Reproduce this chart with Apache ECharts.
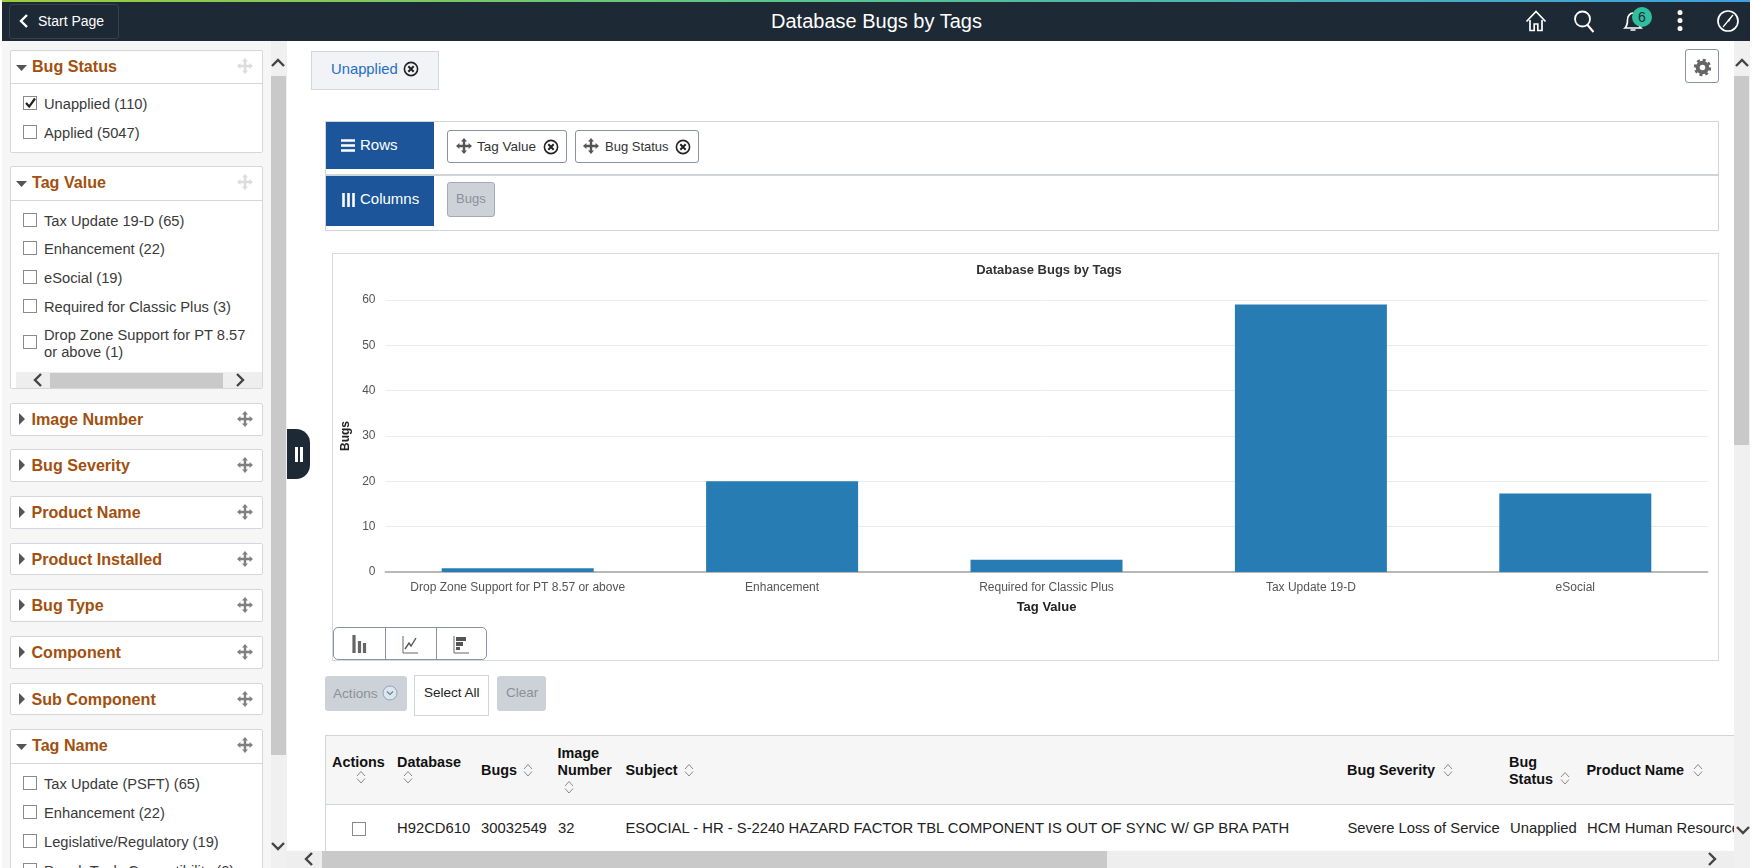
<!DOCTYPE html>
<html>
<head>
<meta charset="utf-8">
<title>Database Bugs by Tags</title>
<script src="https://cdn.jsdelivr.net/npm/echarts@6/dist/echarts.min.js"></script>
<style>
	html, body { margin: 0; padding: 0; width: 1753px; height: 868px; overflow: hidden; background: #fff; font-family: "Liberation Sans", Arial, sans-serif; color: #333; }
	.b { position: absolute; box-sizing: border-box; }
	.t { position: absolute; white-space: nowrap; line-height: 20px; height: 20px; }
	svg { position: absolute; overflow: visible; }
	#chart { position: absolute; left: 333px; top: 254px; width: 1385px; height: 406px; }
</style>
</head>
<body>
<div id="page"></div>
<div id="chart"></div>
<script>
// chart values
var chartTitle = "Database Bugs by Tags";
var tagValues = ["Drop Zone Support for PT 8.57 or above", "Enhancement", "Required for Classic Plus", "Tax Update 19-D", "eSocial"];
var bugCounts = [0.8, 20, 2.7, 59, 17.3];
var xAxisName = "Tag Value";
var yAxisName = "Bugs";

// page furniture text
var bugStatusItems = ["Unapplied (110)", "Applied (5047)"];
var tagValueItems = ["Tax Update 19-D (65)", "Enhancement (22)", "eSocial (19)", "Required for Classic Plus (3)"];
var tagNameItems = ["Tax Update (PSFT) (65)", "Enhancement (22)", "Legislative/Regulatory (19)", "PeopleTools Compatibility (2)"];
var closedPanels = [
	["Image Number", 403, 436],
	["Bug Severity", 449, 482],
	["Product Name", 496, 529],
	["Product Installed", 543, 575],
	["Bug Type", 589, 622],
	["Component", 636, 669],
	["Sub Component", 683, 715]
];
var tableHead = [
	[["Actions"], 332, 762, 361, 777],
	[["Database"], 397, 762, 408, 777],
	[["Bugs"], 481, 770, 528, 770],
	[["Image", "Number"], 557.5, 753, 569, 787],
	[["Subject"], 625.5, 770, 689, 770],
	[["Bug Severity"], 1347, 770, 1448, 770],
	[["Bug", "Status"], 1509, 762, 1565, 778],
	[["Product Name"], 1586.5, 770, 1698, 770]
];
var tableRow = [
	["H92CD610", 397],
	["30032549", 481],
	["32", 558],
	["ESOCIAL - HR - S-2240 HAZARD FACTOR TBL COMPONENT IS OUT OF SYNC W/ GP BRA PATH", 625.5],
	["Severe Loss of Service", 1347.5],
	["Unapplied", 1510],
	["HCM Human Resources", 1587]
];

var page = document.getElementById("page"),
	html = [];

function box(x, y, w, h, css, inner) {
	html.push('<div class="b" style="left:' + x + 'px;top:' + y + 'px;width:' + w + 'px;height:' + h + 'px;' + (css || '') + '">' + (inner || '') + '</div>');
}
function text(x, cy, s, css) {
	html.push('<div class="t" style="left:' + x + 'px;top:' + (cy - 10) + 'px;' + (css || '') + '">' + s + '</div>');
}
function svg(x, y, w, h, inner) {
	html.push('<svg style="left:' + x + 'px;top:' + y + 'px" width="' + w + '" height="' + h + '" viewBox="0 0 ' + w + ' ' + h + '">' + inner + '</svg>');
}
function move(cx, cy, color) {
	svg(cx - 8, cy - 8, 16, 16, '<path fill="' + color + '" d="M8 0l3 3.4H9.2v3.4h3.4V5L16 8l-3.4 3v-1.8H9.2v3.4H11L8 16l-3-3.4h1.8V9.2H3.4V11L0 8l3.4-3v1.8h3.4V3.4H5z"/>');
}
function xcircle(cx, cy) {
	svg(cx - 8, cy - 8, 16, 16, '<circle cx="8" cy="8" r="6.6" fill="none" stroke="#222" stroke-width="1.6"/><path d="M5.3 5.3l5.4 5.4M10.7 5.3l-5.4 5.4" stroke="#222" stroke-width="2"/>');
}
function check(cx, cy, on) {
	box(cx - 7, cy - 7, 14, 14, 'background:#fff;border:1px solid #8a8a8a;');
	if (on) {
		svg(cx - 7, cy - 8, 16, 16, '<path d="M3 8l3.2 3.6L12 3.5" fill="none" stroke="#222" stroke-width="2.2"/>');
	}
}
function chev(cx, cy, dir, color) {
	var p = {
		up: "M0 6L6 0L12 6",
		down: "M0 0L6 6L12 0",
		left: "M6 0L0 6L6 12",
		right: "M0 0L6 6L0 12"
	};
	svg(cx - 6, cy - 6, 12, 12, '<path d="' + p[dir] + '" fill="none" stroke="' + (color || '#444') + '" stroke-width="2.4" transform="translate(' + (dir == "left" || dir == "right" ? 3 : 0) + ',' + (dir == "up" || dir == "down" ? 3 : 0) + ')"/>');
}
function sortIcon(cx, cy) {
	svg(cx - 5, cy - 7, 10, 14, '<path d="M1 6L5 1.5L9 6M1 8.5L5 13L9 8.5" fill="none" stroke="#8a8a8a" stroke-width="1"/>');
}
function panel(name, top, bottom, open, fade) {
	box(9.5, top, 253, bottom - top, 'background:#fff;border:1px solid #d4d8dd;border-radius:2px;');
	if (open) {
		box(9.5, open, 253, 1, 'background:#d4d8dd;');
		svg(16, top + 14, 12, 8, '<path d="M0 1h11L5.5 7z" fill="#555"/>');
	} else {
		svg(18, top + 10, 8, 12, '<path d="M1 0v12l6-6z" fill="#555"/>');
	}
	text(open ? 32 : 31.5, top + 16, name, 'font-weight:bold;font-size:16.1px;color:#a2500f;');
	move(245, top + 16, fade ? "#dcdcdc" : "#808080");
}
function checkItem(label, cy, on) {
	check(30, cy, on);
	text(44, cy + 0.5, label, 'font-size:14.7px;color:#3a3a3a;');
}

// header bar
box(2, 0, 1748, 41, 'background:#1e2936;');
box(2, 0, 1748, 1.5, 'background:linear-gradient(90deg,#9ccc3c 0%,#5cc48a 45%,#3f9fe0 100%);');
box(8.5, 3.5, 110, 35, 'border:1px solid #36424f;border-radius:3px;');
chev(24, 21, "left", "#fff");
text(38, 21, "Start Page", 'font-size:14px;color:#fff;');
text(876.5, 21, chartTitle, 'font-size:20px;color:#fff;transform:translateX(-50%);');
svg(1525, 10, 22, 22, '<path d="M1.5 11.5L11 1.5l9.5 10M5 10v10.5h4.2v-6.5h3.6v6.5H17V10" fill="none" stroke="#fff" stroke-width="1.7"/>');
svg(1573, 10, 22, 22, '<circle cx="9.5" cy="9" r="7.5" fill="none" stroke="#fff" stroke-width="1.8"/><path d="M14.5 15l6 7" stroke="#fff" stroke-width="2"/>');
svg(1622, 10, 22, 22, '<path d="M3 18c2-2 2.5-4 2.5-8C5.500 6 8 3 11 3s5.500 3 5.500 7c0 4 .5 6 2.500 8z M8.500 20h5" fill="none" stroke="#fff" stroke-width="1.7"/>');
box(1632, 7, 20, 20, 'background:#2fbf9f;border-radius:10px;');
text(1642, 17, "6", 'font-size:14px;color:#1e2936;transform:translateX(-50%);');
svg(1676, 10, 8, 22, '<circle cx="4" cy="2.500" r="2.500" fill="#fff"/><circle cx="4" cy="10.500" r="2.500" fill="#fff"/><circle cx="4" cy="18.500" r="2.500" fill="#fff"/>');
svg(1717, 10, 22, 22, '<circle cx="11" cy="11" r="10" fill="none" stroke="#fff" stroke-width="1.7"/><path d="M16 5L6 17" stroke="#fff" stroke-width="1.2"/><path d="M15.500 5l-5 5.500 1.500 1.500z" fill="#fff"/>');

// left column
box(2, 41, 269, 827, 'background:#f6f6f6;');
box(271, 41, 16, 827, 'background:#f0f0f0;');
box(271, 76, 15, 679, 'background:#c9c9c9;');
chev(278, 63, "up");
chev(278, 846, "down");

panel("Bug Status", 49.5, 152.5, 83.3, true);
checkItem(bugStatusItems[0], 103, true);
checkItem(bugStatusItems[1], 132, false);

panel("Tag Value", 166.3, 389.3, 200.3, true);
[220, 248, 277, 306].forEach(function(cy, i) {
	checkItem(tagValueItems[i], cy, false);
});
check(30, 342, false);
text(44, 335, "Drop Zone Support for PT 8.57", 'font-size:14.7px;color:#3a3a3a;');
text(44, 352, "or above (1)", 'font-size:14.7px;color:#3a3a3a;');
box(16, 372, 246, 16, 'background:#eee;');
box(50, 373, 173, 15, 'background:#c9c9c9;');
chev(38, 380, "left");
chev(240, 380, "right");

closedPanels.forEach(function(p) {
	panel(p[0], p[1], p[2], 0, false);
});
panel("Tag Name", 729.3, 900, 763.3, false);
[783, 812, 841, 870].forEach(function(cy, i) {
	checkItem(tagNameItems[i], cy, false);
});

// collapse handle
box(287, 429, 23, 50, 'background:#1e2936;border-radius:0 14px 14px 0;');
box(295, 447, 2.5, 15, 'background:#fff;');
box(300, 447, 2.5, 15, 'background:#fff;');

// selected filter chip and gear
box(311, 51, 128, 39, 'background:#f1f3f6;border:1px solid #d4d8dd;');
text(331, 69, "Unapplied", 'font-size:14.8px;color:#1f6fc4;');
xcircle(411, 69);
box(1685, 49, 34, 34, 'border:1px solid #8a93a0;border-radius:3px;background:#fff;');
svg(1693.5, 58.5, 17, 17, '<circle cx="8.500" cy="8.500" r="4.800" fill="none" stroke="#666" stroke-width="4"/><circle cx="8.500" cy="8.500" r="7.500" fill="none" stroke="#666" stroke-width="2.400" stroke-dasharray="3 2.890"/>');

// rows and columns
box(325, 121, 1394, 54, 'border:1px solid #d0d5da;');
box(325, 174, 1394, 57, 'border:1px solid #d0d5da;border-top:2px solid #d0d5da;');
box(326, 122, 108, 47, 'background:#1c5599;');
box(326, 176, 108, 50, 'background:#1c5599;');
svg(341, 139, 15, 13, '<path d="M0 1.500h14M0 6.500h14M0 11.500h14" stroke="#fff" stroke-width="2.600"/>');
text(360, 145, "Rows", 'font-size:15px;color:#fff;');
svg(342, 193, 13, 14, '<path d="M1.500 0v14M6.500 0v14M11.500 0v14" stroke="#fff" stroke-width="2.600"/>');
text(360, 199, "Columns", 'font-size:15px;color:#fff;');
box(447, 130, 120, 33, 'border:1px solid #8a93a0;border-radius:3px;');
move(464, 146, "#555");
text(477, 147, "Tag Value", 'font-size:13.5px;color:#333;');
xcircle(550.5, 147);
box(575, 130, 124, 33, 'border:1px solid #8a93a0;border-radius:3px;');
move(591, 146, "#555");
text(605, 147, "Bug Status", 'font-size:13px;color:#333;');
xcircle(683, 147);
box(447, 182, 48, 35, 'background:#cdd2d9;border:1px solid #a4abb4;border-radius:3px;');
text(456, 199, "Bugs", 'font-size:13px;color:#8a9098;');

// chart frame
box(332, 253, 1387, 408, 'border:1px solid #d6dade;');

// buttons under chart
box(325, 676, 82, 35, 'background:#cdd2d9;border-radius:3px;');
text(333, 694, "Actions", 'font-size:13.6px;color:#8a9098;');
svg(382, 685, 16, 16, '<circle cx="8" cy="8" r="7" fill="#dbe6f0" stroke="#8fa5b8" stroke-width="1"/><path d="M5 6.500l3 3 3-3" fill="none" stroke="#6d8296" stroke-width="1.200"/>');
box(413.5, 675, 75.5, 41, 'border:1px solid #d0d5da;background:#fff;');
text(424, 693, "Select All", 'font-size:13.5px;color:#222;');
box(497, 676, 49, 35, 'background:#cdd2d9;border-radius:3px;');
text(506, 693, "Clear", 'font-size:13.5px;color:#8a9098;');

// table
box(325, 735, 1409, 70, 'background:#f6f6f6;border:1px solid #d0d5da;border-right:0;');
tableHead.forEach(function(h) {
	h[0].forEach(function(s, i) {
		text(h[1], h[2] + i * 17, s, 'font-size:14.4px;font-weight:bold;color:#111;');
	});
	sortIcon(h[3], h[4]);
});
box(325, 804, 1, 48, 'background:#d0d5da;');
check(358.5, 829, false);
html.push('<div class="b" style="left:0;top:818px;width:1734px;height:22px;overflow:hidden;">');
tableRow.forEach(function(c) {
	text(c[1], 10, c[0], 'font-size:14.8px;color:#222;');
});
html.push('</div>');

// page scrollbars
box(1734, 41, 16, 827, 'background:#f0f0f0;');
box(1734, 76, 15, 369, 'background:#c9c9c9;');
chev(1742, 63, "up");
chev(1743, 830, "down");
box(287, 851, 1447, 17, 'background:#eee;');
box(322, 851, 785, 17, 'background:#c9c9c9;');
chev(309, 859, "left");
chev(1712, 859, "right");

page.innerHTML = html.join("");

// chart
var myChart = echarts.init(document.getElementById("chart"), null, { renderer: "canvas" });
myChart.setOption({
	animation: false,
	title: {
		text: chartTitle,
		left: 711,
		top: 5,
		textAlign: "center",
		textStyle: { fontFamily: "Liberation Sans", fontSize: 13, fontWeight: "bold", color: "#333" }
	},
	// v6 otherwise squeezes the grid to fit the axis names
	grid: { left: 52.5, right: 10.5, top: 46, height: 272, outerBoundsMode: "none" },
	xAxis: {
		type: "category",
		data: tagValues,
		name: xAxisName,
		nameLocation: "middle",
		nameGap: 29,
		nameTextStyle: { fontFamily: "Liberation Sans", fontSize: 13, fontWeight: "bold", color: "#222" },
		axisTick: { show: false },
		axisLine: { lineStyle: { color: "#b8b8b8", width: 2 } },
		axisLabel: { fontFamily: "Liberation Sans", fontSize: 12, color: "#555", margin: 10, interval: 0 }
	},
	yAxis: {
		type: "value",
		min: 0,
		max: 60,
		interval: 10,
		name: yAxisName,
		nameLocation: "middle",
		nameGap: 29.5,
		nameTextStyle: { fontFamily: "Liberation Sans", fontSize: 12, fontWeight: "bold", color: "#222" },
		axisLine: { show: false },
		axisTick: { show: false },
		axisLabel: { fontFamily: "Liberation Sans", fontSize: 12, color: "#555", margin: 10 },
		splitLine: { lineStyle: { color: "#eaedf0", width: 1 } }
	},
	series: [{
		type: "bar",
		data: bugCounts,
		barWidth: 152,
		itemStyle: { color: "#277cb4" }
	}]
});

// chart type switcher sits on top of the chart frame
var bar = document.createElement("div");
page.appendChild(bar);
html = [];
box(333, 626.5, 154, 33, 'background:#fff;border:1px solid #8a93a0;border-radius:5px;z-index:5;');
box(384.5, 627, 1, 32, 'background:#8a93a0;z-index:5;');
box(435.5, 627, 1, 32, 'background:#8a93a0;z-index:5;');
bar.innerHTML = html.join("") +
	'<svg style="left:352px;top:635px;z-index:6" width="15" height="18"><path d="M2 0v18M7.500 6v12M12.500 8v10" stroke="#666" stroke-width="3.200"/></svg>' +
	'<svg style="left:402px;top:636px;z-index:6" width="17" height="18"><path d="M1 0v17h15" fill="none" stroke="#666" stroke-width="1"/><path d="M3 13l4-6 2 3 5-8" fill="none" stroke="#555" stroke-width="1.400"/></svg>' +
	'<svg style="left:453px;top:636px;z-index:6" width="17" height="18"><path d="M1 0v17h15" fill="none" stroke="#666" stroke-width="1"/><path d="M3 1h10v4H3zM3 6h7v4H3zM3 11h4v3H3z" fill="#555"/></svg>';
</script>
</body>
</html>
